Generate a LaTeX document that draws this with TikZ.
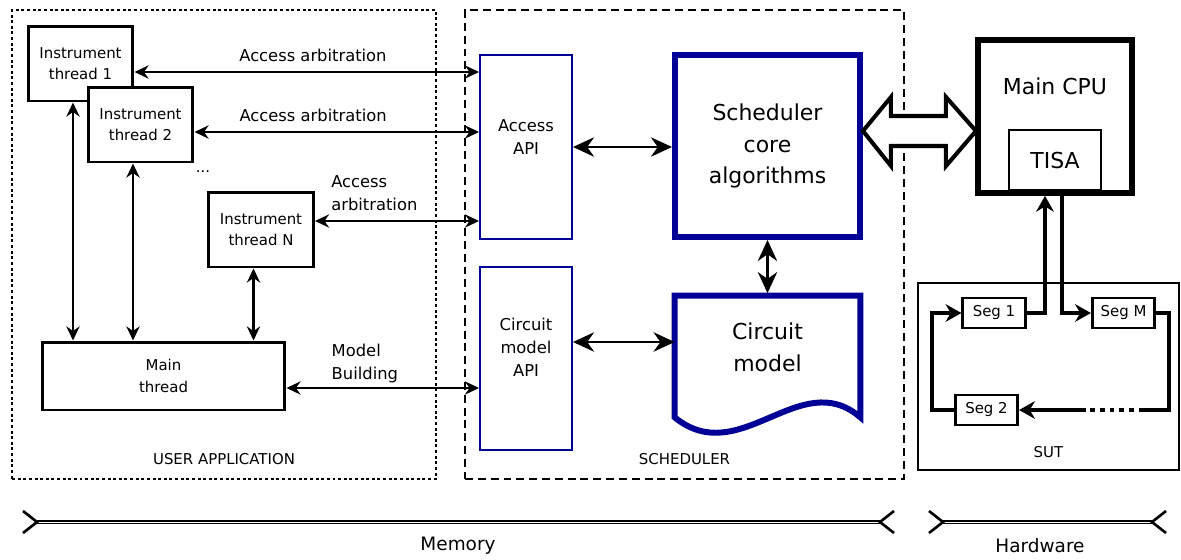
\documentclass[tikz,border=0pt]{standalone}
\usepackage{fontspec}
\setmainfont{DejaVu Sans}
\usepackage{tikz}
\usetikzlibrary{arrows.meta, positioning, calc}
\definecolor{schedblue}{RGB}{0, 0, 150}
\newcommand{\tinytxt}{\fontsize{8.5}{12.3}\selectfont}
\newcommand{\lbltxt}{\fontsize{9.3}{13.2}\selectfont}
\newcommand{\bigtxt}{\fontsize{12.5}{18}\selectfont}
\newcommand{\spantxt}{\fontsize{10.5}{12}\selectfont}

\begin{document}
\begin{tikzpicture}[x=0.02cm, y=-0.02cm,
  thread/.style={draw, line width=1.7pt, fill=white, align=center, font=\tinytxt,
    minimum width=2.1cm, minimum height=1.5cm, inner sep=0pt},
  apibox/.style={draw=schedblue, line width=1.1pt, minimum width=1.84cm, minimum height=3.67cm},
  corebox/.style={draw=schedblue, line width=3.4pt, minimum width=3.7cm, minimum height=3.64cm,
    align=center, font=\bigtxt},
  segbox/.style={draw, line width=1.5pt, fill=white, font=\tinytxt,
    minimum width=1.25cm, minimum height=0.6cm, inner sep=0pt},
  link/.style={{Stealth[length=8pt,width=7.5pt]}-{Stealth[length=8pt,width=7.5pt]}, line width=1.5pt},
  widelink/.style={{Stealth[length=12pt,width=11pt]}-{Stealth[length=12pt,width=11pt]}, line width=1.5pt},
  sutlink/.style={line width=2.3pt, -{Stealth[length=9pt,width=10pt]}},
  edgelbl/.style={font=\lbltxt, align=left, inner sep=2pt},
  span/.style={double, double distance=0.5pt, line width=0.9pt},
  chevron/.style={line width=1.5pt}
]
\useasboundingbox (0,0) rectangle (1181,559);

% ── User application ────────────────────────────────────────────
\node[draw, line width=1.4pt, dash pattern=on 1.7pt off 1.5pt,
  minimum width=8.48cm, minimum height=9.38cm,
  label={[font=\tinytxt, yshift=-4.29cm]center:USER APPLICATION}] (uapp) at (224,244.5) {};

\node[thread] (it1) at (80.5,63.5) {Instrument\\thread 1};
\node[thread] (it2) at (140.5,124.5) {Instrument\\thread 2};
\node[font=\tinytxt] (dots) at (203,172) {...};
\node[thread] (itN) at (261,229.5) {Instrument\\thread N};
\node[thread, minimum width=4.86cm, minimum height=1.36cm] (mainth) at (163.5,376) {Main\\thread};

\draw[link] ([xshift=-0.15cm]it1.south) -- ([xshift=-0.15cm]it1.south |- mainth.north);
\draw[link] ([xshift=-0.15cm]it2.south) -- ([xshift=-0.15cm]it2.south |- mainth.north);
\draw[link] ([xshift=-0.15cm]itN.south) -- ([xshift=-0.15cm]itN.south |- mainth.north);

% ── Scheduler ───────────────────────────────────────────────────
\node[draw, line width=1.3pt, dash pattern=on 4.5pt off 2.8pt,
  minimum width=8.78cm, minimum height=9.38cm,
  label={[font=\tinytxt, yshift=-4.29cm]center:SCHEDULER}] (sched) at (684.5,244.5) {};

\node[apibox, label={[font=\lbltxt, align=center, yshift=0.2cm]center:Access\\API}]
  (accapi) at (526,147) {};
\node[apibox, label={[font=\lbltxt, align=center, yshift=0.23cm]center:Circuit\\model\\API}]
  (capi) at (526,358.5) {};
\node[corebox] (core) at (767.5,146) {Scheduler\\core\\algorithms};
\node[minimum width=3.7cm, minimum height=2.42cm, inner sep=0pt,
  label={[font=\bigtxt, align=center, yshift=0.19cm]center:Circuit\\model}] (cmodel) at (767.5,356.5) {};
\draw[schedblue, line width=3.4pt, line join=miter]
  (cmodel.south east) .. controls ($(cmodel.south east)+(-60,-52)$)
  and ($(cmodel.south west)+(65,53)$) .. (cmodel.south west)
  -- (cmodel.north west) -- (cmodel.north east) -- cycle;

\draw[widelink] (accapi.east) -- (accapi.east -| core.west);
\draw[widelink] ([yshift=0.33cm]capi.east) -- ([yshift=0.33cm]capi.east -| cmodel.west);
\draw[widelink] (core.south) -- ([yshift=0.05cm]cmodel.north);

% ── Links between application and scheduler ─────────────────────
\draw[link] ([yshift=-0.17cm]it1.east) -- ([yshift=-0.17cm]it1.east -| accapi.west)
  node[edgelbl, pos=0.518, above=3pt] {Access arbitration};
\draw[link] ([yshift=-0.15cm]it2.east) -- ([yshift=-0.15cm]it2.east -| accapi.west)
  node[edgelbl, pos=0.417, above=3pt] {Access arbitration};
\draw[link] ([yshift=0.17cm]itN.east) -- ([yshift=0.17cm]itN.east -| accapi.west)
  node[edgelbl, pos=0.07, anchor=south west, yshift=3pt] {Access\\arbitration};
\draw[link] ([yshift=-0.24cm]mainth.east) -- ([yshift=-0.24cm]mainth.east -| capi.west)
  node[edgelbl, pos=0.21, anchor=south west] {Model\\Building};

% ── Hardware ────────────────────────────────────────────────────
\node[draw, line width=3.2pt, minimum width=3.08cm, minimum height=3.06cm,
  label={[font=\bigtxt, yshift=0.61cm]center:Main CPU}] (cpu) at (1055,116.5) {};
\node[draw, line width=1.4pt, font=\bigtxt, minimum width=1.84cm, minimum height=1.2cm] (tisa) at (1055,160) {TISA};

\draw[line width=2.3pt, fill=white, line join=miter]
  ($(core.east)+(0,-15)$) -- ++(28,-34) -- ++(0,19) -- ++(55,0) -- ++(0,-19)
  -- ++(30,34) -- ++(-30,35) -- ++(0,-20) -- ++(-55,0) -- ++(0,20) -- cycle;

\node[draw, line width=1.1pt, minimum width=5.22cm, minimum height=3.74cm,
  label={[font=\tinytxt, yshift=-1.51cm]center:SUT}] (sut) at (1048.5,376.5) {};
\node[segbox] (seg1) at (994,313) {Seg 1};
\node[segbox] (segM) at (1123.5,313) {Seg M};
\node[segbox] (seg2) at (986.5,410) {Seg 2};

\draw[sutlink] (seg1.east) -| ($(cpu.south)+(-10,0)$);
\draw[sutlink] ($(cpu.south)+(7,0)$) |- (segM.west);
\draw[line width=2.3pt] (segM.east) -| ($(segM.east)+(13,97)$) -- ++(-30,0) coordinate (dotr);
\draw[line width=2.3pt, dash pattern=on 2.8pt off 2.8pt, dash phase=2.8pt] (dotr) -- ++(-53,0) coordinate (dotl);
\draw[sutlink] (dotl) -- (seg2.east);
\draw[sutlink] (seg2.west) -- ++(-22,0) |- (seg1.west);

% ── Memory / Hardware spans ─────────────────────────────────────
\coordinate (memL) at (37,522);
\coordinate (memR) at (880,522);
\draw[span] (memL) -- (memR);
\draw[chevron] ($(memL)+(-14,-11)$) -- (memL) -- ($(memL)+(-14,11)$);
\draw[chevron] ($(memR)+(14,-11)$) -- (memR) -- ($(memR)+(14,11)$);
\node[font=\spantxt] (memlbl) at (458,546) {Memory};

\coordinate (hwL) at (943,522);
\coordinate (hwR) at (1152,522);
\draw[span] (hwL) -- (hwR);
\draw[chevron] ($(hwL)+(-14,-11)$) -- (hwL) -- ($(hwL)+(-14,11)$);
\draw[chevron] ($(hwR)+(14,-11)$) -- (hwR) -- ($(hwR)+(14,11)$);
\node[font=\spantxt] (hwlbl) at (1040,546) {Hardware};

\end{tikzpicture}
\end{document}
